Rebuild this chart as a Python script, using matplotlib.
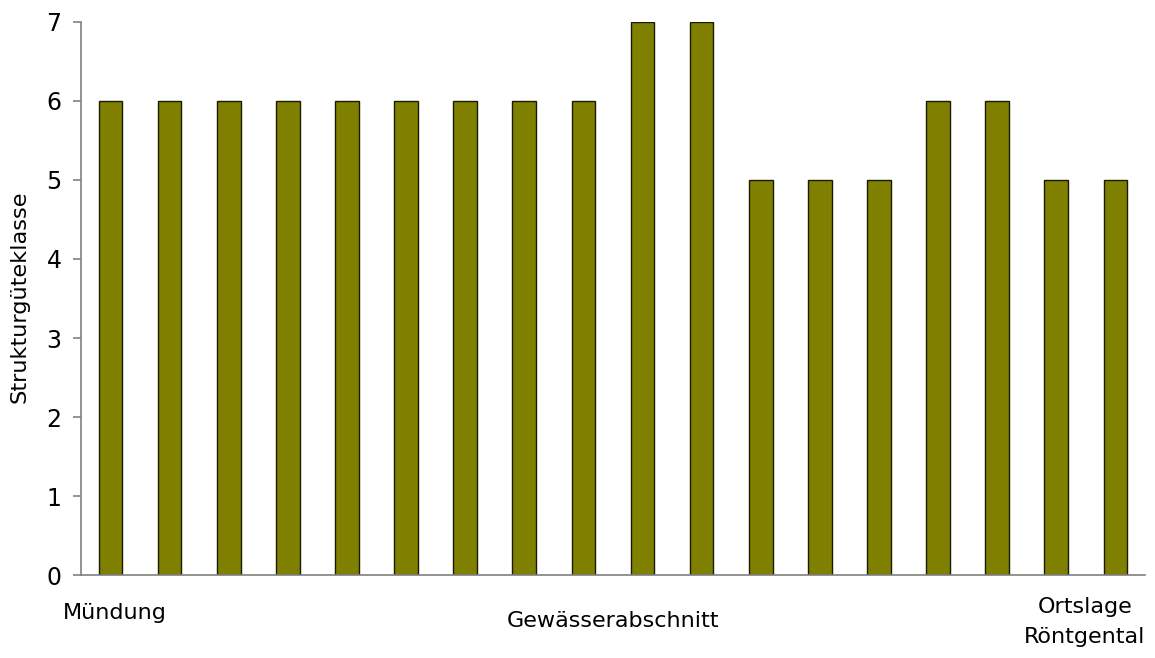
import matplotlib
matplotlib.use('Agg')
import matplotlib.pyplot as plt
import numpy as np

# Strukturgüteklasse per Gewässerabschnitt (Mündung -> Ortslage Röntgental)
values = [6, 6, 6, 6, 6, 6, 6, 6, 6, 7, 7, 5, 5, 5, 6, 6, 5, 5]
y_ticks = [0, 1, 2, 3, 4, 5, 6, 7]

plt.rcParams['font.family'] = ['DejaVu Sans']

fig = plt.figure(figsize=(11.55, 6.58), dpi=100)
ax = fig.add_axes([0.0701, 0.1261, 0.9212, 0.8405])

x = np.arange(len(values))
ax.bar(x, values, width=0.4, color='#808000', edgecolor='#1a1a00', linewidth=1.0)

ax.set_xlim(-0.5, len(values) - 0.5)
ax.set_ylim(0, 7)
ax.set_yticks(y_ticks)
ax.set_xticks([])
ax.tick_params(axis='y', labelsize=17, length=6, width=1.2, color='#808080', pad=8)

for side in ['top', 'right']:
    ax.spines[side].set_visible(False)
for side in ['left', 'bottom']:
    ax.spines[side].set_color('#808080')
    ax.spines[side].set_linewidth(1.2)

fig.text(20 / 1155, 1 - 297 / 658, 'Strukturgüteklasse', fontsize=16.2, rotation=90,
         ha='center', va='center')

fig.text(115 / 1155, 1 - 613 / 658, 'Mündung', fontsize=16, ha='center', va='center')
fig.text(613 / 1155, 1 - 621 / 658, 'Gewässerabschnitt', fontsize=16, ha='center', va='center')
fig.text(1085 / 1155, 1 - 622 / 658, 'Ortslage\nRöntgental', fontsize=16, ha='center',
         va='center', linespacing=1.68)

fig.savefig('out.png', dpi=100)
